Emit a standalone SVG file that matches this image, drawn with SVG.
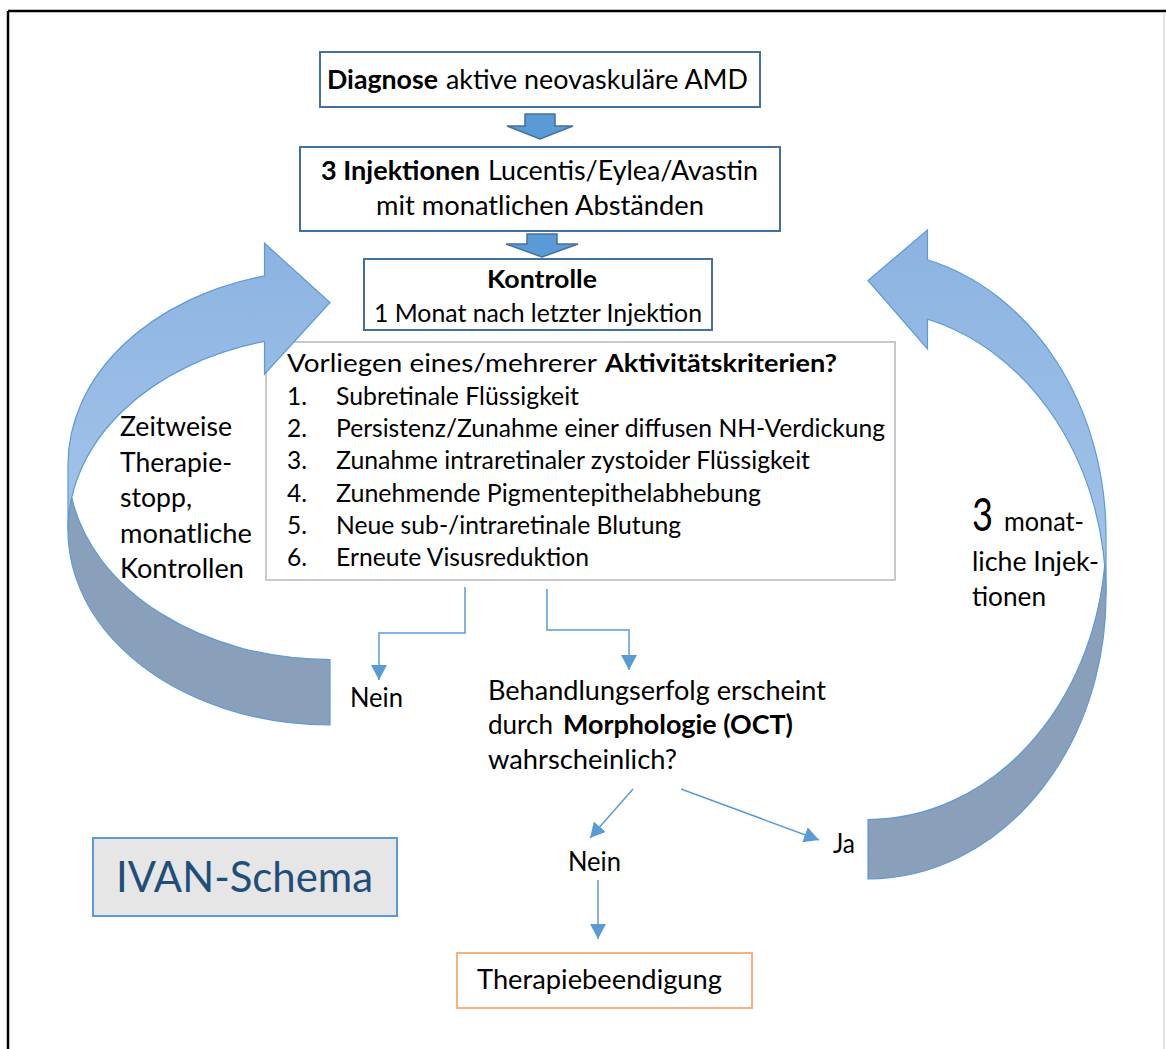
<svg xmlns="http://www.w3.org/2000/svg" width="1166" height="1049" viewBox="0 0 1166 1049">
<style>
text{font-family:Lato,"Liberation Sans",sans-serif;fill:#000}
.b{font-weight:bold}
.t26{font-size:27px}
.t24{font-size:25px}
.t23{font-size:24.5px}
.box{fill:#fff;stroke:#41719C;stroke-width:2}
.crit{fill:#fff;stroke:#C8C8C8;stroke-width:2}
.blk{fill:#5B9BD5;stroke:#41719C;stroke-width:1.5}
.front{stroke:#5B9BD5;stroke-width:1.2}
.dark{fill:#8A9FBA;stroke:#5B9BD5;stroke-width:1.2}
.con{fill:none;stroke:#5B9BD5;stroke-width:1.5}
</style>
<defs>
<linearGradient id="gf" x1="0" y1="0" x2="0" y2="1">
<stop offset="0" stop-color="#8CB3E1"/>
<stop offset="1" stop-color="#A3C4E9"/>
</linearGradient>
<marker id="ah" viewBox="0 0 15 16" refX="15" refY="8" markerWidth="15" markerHeight="16" markerUnits="userSpaceOnUse" orient="auto">
<path d="M0,0 L15,8 L0,16 Z" fill="#5B9BD5"/>
</marker>
</defs>
<rect width="1166" height="1049" fill="#fff"/>
<g id="frame">
<line x1="8" y1="11" x2="1166" y2="11" stroke="#000" stroke-width="2.5"/>
<line x1="8" y1="11" x2="8" y2="1049" stroke="#000" stroke-width="2.5"/>
<line x1="1164" y1="12" x2="1164" y2="1049" stroke="#D9D9D9" stroke-width="1.5"/>
</g>
<g id="diagnose">
<rect class="box" x="320" y="52" width="440" height="55"/>
<text class="t26 b" x="327" y="89" textLength="111" lengthAdjust="spacingAndGlyphs">Diagnose</text>
<text class="t26" x="446" y="89" textLength="302" lengthAdjust="spacingAndGlyphs">aktive neovaskuläre AMD</text>
</g>
<g id="injektionen">
<rect class="box" x="300" y="147" width="480" height="84"/>
<text class="t26 b" x="321" y="180" textLength="159" lengthAdjust="spacingAndGlyphs">3 Injektionen</text>
<text class="t26" x="488" y="180" textLength="270" lengthAdjust="spacingAndGlyphs">Lucentis/Eylea/Avastin</text>
<text class="t26" x="376" y="215" textLength="328" lengthAdjust="spacingAndGlyphs">mit monatlichen Abständen</text>
</g>
<g id="kontrolle">
<rect class="box" x="364" y="259" width="348" height="71"/>
<text class="t24 b" x="487" y="288" textLength="110" lengthAdjust="spacingAndGlyphs">Kontrolle</text>
<text class="t24" x="374" y="322" textLength="328" lengthAdjust="spacingAndGlyphs">1 Monat nach letzter Injektion</text>
</g>
<g id="block-arrows">
<path class="blk" d="M525,114 H555 V126 H573 L540,139 L507,126 H525 Z"/>
<path class="blk" d="M527,234 H557 V244 H578 L542,257 L506,244 H527 Z"/>
</g>
<g id="kriterien">
<rect class="crit" x="266" y="342" width="629" height="238"/>
<text class="t23" x="287" y="372" textLength="310" lengthAdjust="spacingAndGlyphs">Vorliegen eines/mehrerer</text>
<text class="t23 b" x="605" y="372" textLength="232" lengthAdjust="spacingAndGlyphs">Aktivitätskriterien?</text>
<text class="t23" x="287" y="405">1.</text>
<text class="t23" x="336" y="405" textLength="243" lengthAdjust="spacingAndGlyphs">Subretinale Flüssigkeit</text>
<text class="t23" x="287" y="437">2.</text>
<text class="t23" x="336" y="437" textLength="549" lengthAdjust="spacingAndGlyphs">Persistenz/Zunahme einer diffusen NH-Verdickung</text>
<text class="t23" x="287" y="469">3.</text>
<text class="t23" x="336" y="469" textLength="474" lengthAdjust="spacingAndGlyphs">Zunahme intraretinaler zystoider Flüssigkeit</text>
<text class="t23" x="287" y="502">4.</text>
<text class="t23" x="336" y="502" textLength="425" lengthAdjust="spacingAndGlyphs">Zunehmende Pigmentepithelabhebung</text>
<text class="t23" x="287" y="534">5.</text>
<text class="t23" x="336" y="534" textLength="345" lengthAdjust="spacingAndGlyphs">Neue sub-/intraretinale Blutung</text>
<text class="t23" x="287" y="566">6.</text>
<text class="t23" x="336" y="566" textLength="253" lengthAdjust="spacingAndGlyphs">Erneute Visusreduktion</text>
</g>
<g id="pause-arrow">
<path class="dark" d="M330,725 A262 194.9 0 0 1 71.7,497.4 A262 194.9 0 0 0 330,659.6 Z"/>
<path class="front" fill="url(#gf)" d="M68,530.1 A262 194.9 0 0 1 264.5,341.4 L264.5,374.2 L330,302.5 L264.5,243.2 L264.5,275.9 A262 194.9 0 0 0 68,464.6 Z"/>
<text class="t26" x="120" y="436" textLength="112" lengthAdjust="spacingAndGlyphs">Zeitweise</text>
<text class="t26" x="120" y="472" textLength="112" lengthAdjust="spacingAndGlyphs">Therapie-</text>
<text class="t26" x="120" y="507" textLength="72" lengthAdjust="spacingAndGlyphs">stopp,</text>
<text class="t26" x="120" y="543" textLength="132" lengthAdjust="spacingAndGlyphs">monatliche</text>
<text class="t26" x="120" y="578" textLength="124" lengthAdjust="spacingAndGlyphs">Kontrollen</text>
</g>
<g id="injection-arrow">
<path class="dark" d="M868,879 A238 284.4 0 0 0 1104.7,564.9 A238 284.4 0 0 1 868,819.5 Z"/>
<path class="front" fill="url(#gf)" d="M1106,594.6 A238 284.4 0 0 0 927.5,319.3 L927.5,349 L868,280.5 L927.5,230 L927.5,259.8 A238 284.4 0 0 1 1106,535.1 Z"/>
<text x="972" y="531" style="font-size:46px" textLength="21" lengthAdjust="spacingAndGlyphs">3</text>
<text class="t26" x="1004" y="531" textLength="80" lengthAdjust="spacingAndGlyphs">monat-</text>
<text class="t26" x="972" y="571" textLength="127" lengthAdjust="spacingAndGlyphs">liche Injek-</text>
<text class="t26" x="972" y="606" textLength="74" lengthAdjust="spacingAndGlyphs">tionen</text>
</g>
<g id="connectors">
<path class="con" d="M465,587 V633 H379 V680" marker-end="url(#ah)"/>
<path class="con" d="M547,589 V630 H629 V670" marker-end="url(#ah)"/>
<path class="con" d="M633,789 L590,838" marker-end="url(#ah)"/>
<path class="con" d="M681,789 L819,840" marker-end="url(#ah)"/>
<path class="con" d="M598,880 V939" marker-end="url(#ah)"/>
</g>
<g id="nein1">
<text class="t26" x="350" y="707" textLength="53" lengthAdjust="spacingAndGlyphs">Nein</text>
</g>
<g id="behandlungserfolg">
<text class="t26" x="488" y="700" textLength="338" lengthAdjust="spacingAndGlyphs">Behandlungserfolg erscheint</text>
<text class="t26" x="488" y="734" textLength="65" lengthAdjust="spacingAndGlyphs">durch</text>
<text class="t26 b" x="563" y="734" textLength="230" lengthAdjust="spacingAndGlyphs">Morphologie (OCT)</text>
<text class="t26" x="488" y="769" textLength="189" lengthAdjust="spacingAndGlyphs">wahrscheinlich?</text>
</g>
<g id="nein2">
<text class="t26" x="568" y="871" textLength="53" lengthAdjust="spacingAndGlyphs">Nein</text>
</g>
<g id="ja">
<text class="t26" x="833" y="853" textLength="22" lengthAdjust="spacingAndGlyphs">Ja</text>
</g>
<g id="therapiebeendigung">
<rect x="457" y="953" width="295" height="55" fill="#fff" stroke="#F4B183" stroke-width="2"/>
<text class="t26" x="477" y="989" textLength="245" lengthAdjust="spacingAndGlyphs">Therapiebeendigung</text>
</g>
<g id="ivan">
<rect x="93" y="838" width="304" height="78" fill="#E7E6E6" stroke="#5B9BD5" stroke-width="2"/>
<text x="116" y="892" style="font-size:43px;fill:#1F4E79" textLength="257" lengthAdjust="spacingAndGlyphs">IVAN-Schema</text>
</g>
</svg>
